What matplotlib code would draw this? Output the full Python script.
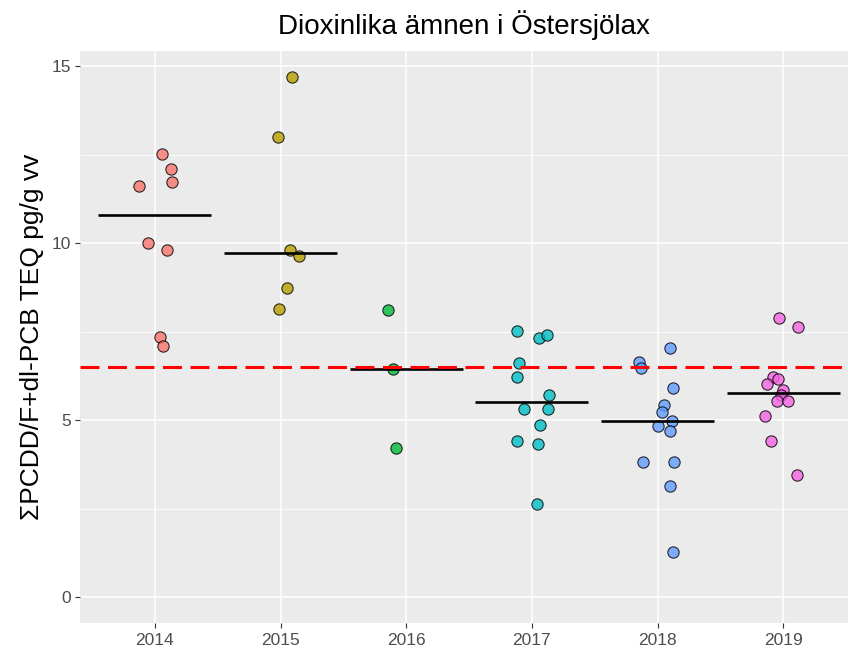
import matplotlib
matplotlib.use("Agg")
import matplotlib.pyplot as plt
import numpy as np

# data
years = ["2014", "2015", "2016", "2017", "2018", "2019"]
colors = ["#F8766D", "#B79F00", "#00BA38", "#00BFC4", "#619CFF", "#F564E3"]

v2014 = [12.51, 12.10, 11.72, 11.62, 10.0, 9.81, 7.35, 7.11]
v2015 = [14.69, 13.0, 9.81, 9.63, 8.73, 8.13]
v2016 = [8.12, 6.46, 4.22]
v2017 = [7.53, 7.33, 7.41, 6.62, 6.21, 5.72, 5.31, 5.31, 4.86, 4.42, 4.34, 2.64]
v2018 = [7.04, 6.63, 6.48, 5.91, 5.42, 5.24, 4.98, 4.83, 4.70, 3.81, 3.81, 3.13, 1.26]
v2019 = [7.90, 7.63, 6.22, 6.15, 6.02, 5.84, 5.70, 5.53, 5.53, 5.13, 4.41, 3.44]

# horizontal jitter of each point (category units)
j2014 = [0.053, 0.127, 0.138, -0.127, -0.052, 0.095, 0.04, 0.064]
j2015 = [0.092, -0.022, 0.071, 0.145, 0.049, -0.014]
j2016 = [-0.145, -0.105, -0.081]
j2017 = [-0.119, 0.06, 0.116, -0.099, -0.119, 0.135, -0.067, 0.124, 0.068, -0.119, 0.05, 0.04]
j2018 = [0.099, -0.145, -0.134, 0.121, 0.049, 0.038, 0.113, 0.004, 0.099, -0.113, 0.134, 0.099, 0.123]
j2019 = [-0.032, 0.117, -0.084, -0.04, -0.127, 0.0, -0.021, -0.052, 0.035, -0.148, -0.095, 0.109]

values = [v2014, v2015, v2016, v2017, v2018, v2019]
jitter = [j2014, j2015, j2016, j2017, j2018, j2019]
reference_level = 6.5

fig = plt.figure(figsize=(8.48, 6.59), dpi=100)
ax = fig.add_axes([79.5 / 848, 36.5 / 659, 1 - 79.5 / 848, 608.5 / 659 - 36.5 / 659])
ax.set_facecolor("#EBEBEB")

for i, (vals, jit, col) in enumerate(zip(values, jitter, colors)):
    x = i + 1 + np.array(jit)
    ax.scatter(x, vals, s=66, c=col, alpha=0.8, edgecolors="black",
               linewidths=0.8, zorder=3)
    med = np.median(vals)
    ax.plot([i + 1 - 0.45, i + 1 + 0.45], [med, med], color="black",
            lw=1.9, solid_capstyle="butt", zorder=4)

ax.axhline(reference_level, color="#FF0000", lw=2.2, dashes=(6.2, 2.8), zorder=5)

ax.set_xlim(0.4, 6.515)
ax.set_ylim(-0.72, 15.45)
ax.set_xticks(range(1, 7))
ax.set_xticklabels(years)
ax.set_yticks([0, 5, 10, 15])
ax.set_yticks([2.5, 7.5, 12.5], minor=True)

ax.grid(which="major", color="white", lw=1.1, zorder=0)
ax.grid(which="minor", axis="y", color="white", lw=0.55, zorder=0)
ax.set_axisbelow(True)
for s in ax.spines.values():
    s.set_visible(False)

ax.tick_params(axis="both", which="major", length=3.8, width=0.8, color="#333333",
               labelcolor="#4D4D4D", labelsize=12.5)
ax.tick_params(axis="x", pad=4)
ax.tick_params(axis="y", pad=2)
ax.tick_params(which="minor", length=0)
for lab in ax.get_xticklabels() + ax.get_yticklabels():
    lab.set_family("Liberation Sans")

ax.set_ylabel("ΣPCDD/F+dl-PCB TEQ pg/g vv", fontsize=19, family="Liberation Sans",
              labelpad=6)
ax.set_title("Dioxinlika ämnen i Östersjölax", fontsize=20, family="Liberation Sans",
             pad=12)

fig.savefig("out.png", dpi=100, facecolor="white")
